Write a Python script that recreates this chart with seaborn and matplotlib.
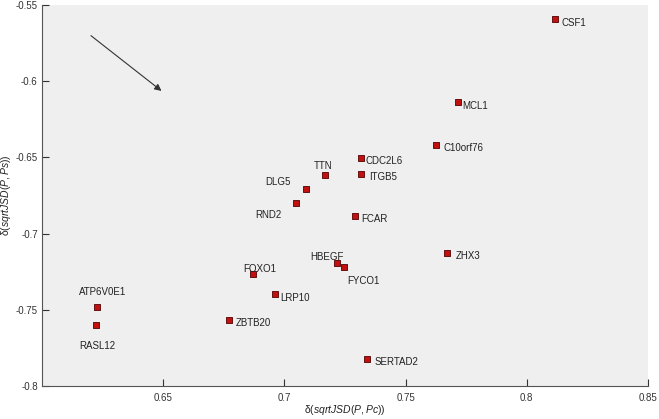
import numpy as np
import pandas as pd
import matplotlib
matplotlib.use("Agg")
import matplotlib.pyplot as plt
import seaborn as sns

# dados
genes = ["CSF1", "MCL1", "C10orf76", "CDC2L6", "ITGB5", "TTN", "DLG5", "RND2",
         "FCAR", "ZHX3", "HBEGF", "FYCO1", "SERTAD2", "FOXO1", "LRP10",
         "ZBTB20", "ATP6V0E1", "RASL12"]
delta_pc = [0.8115, 0.7716, 0.7627, 0.7316, 0.7318, 0.7169, 0.7088, 0.7046,
            0.7292, 0.7672, 0.7215, 0.7246, 0.7339, 0.6870, 0.6960,
            0.6771, 0.6225, 0.6222]
delta_ps = [-0.5592, -0.6137, -0.6420, -0.6504, -0.6609, -0.6617, -0.6705, -0.6797,
            -0.6884, -0.7127, -0.7190, -0.7221, -0.7822, -0.7265, -0.7396,
            -0.7567, -0.7483, -0.7601]

# deslocamento dos rotulos (pixels) e alinhamento
label_dx = [7, 4, 7, 5, 8, -2, -15, -14, 6, 8, -10, 19, 8, 7, 6, 7, 6, 2]
label_dy = [-4, -4, -3, -3, -3, 9, 7, -12, -3, -3, 6, -14, -3, 5, -4, -3, 15, -21]
label_ha = ["left", "left", "left", "left", "left", "center", "right", "right",
            "left", "left", "center", "center", "left", "center", "left",
            "left", "center", "center"]

x_ticks = [0.65, 0.7, 0.75, 0.8, 0.85]
x_tick_labels = ["0.65", "0.7", "0.75", "0.8", "0.85"]
y_ticks = [-0.8, -0.75, -0.7, -0.65, -0.6, -0.55]
y_tick_labels = ["-0.8", "-0.75", "-0.7", "-0.65", "-0.6", "-0.55"]

arrow_start = (0.6193, -0.5690)
arrow_end = (0.6502, -0.6075)

df = pd.DataFrame({"gene": genes, "pc": delta_pc, "ps": delta_ps})

sns.set_style("white")
plt.rcParams["font.family"] = ["Liberation Sans", "DejaVu Sans"]
plt.rcParams["mathtext.fontset"] = "custom"
plt.rcParams["mathtext.it"] = "Liberation Sans:italic"
plt.rcParams["mathtext.rm"] = "Liberation Sans"

fig = plt.figure(figsize=(6.59, 4.19), dpi=100)
ax = fig.add_axes([0.0637, 0.0788, 0.9196, 0.9093])
ax.set_facecolor("#efefef")

sns.scatterplot(data=df, x="pc", y="ps", marker="s", s=20, color="#c01010",
                edgecolor="#500000", linewidth=0.6, ax=ax, zorder=3)

for g, x, y, dx, dy, ha in zip(genes, delta_pc, delta_ps, label_dx, label_dy, label_ha):
    ax.annotate(g, (x, y), xytext=(dx, dy), textcoords="offset pixels",
                ha=ha, va="center", fontsize=7, color="#222222")

ax.annotate("", xy=arrow_end, xytext=arrow_start,
            arrowprops=dict(arrowstyle="-|>", color="#333333", lw=0.8,
                            mutation_scale=10))

ax.set_xlim(0.6, 0.85)
ax.set_ylim(-0.8, -0.55)
ax.set_xticks(x_ticks)
ax.set_xticklabels(x_tick_labels)
ax.set_yticks(y_ticks)
ax.set_yticklabels(y_tick_labels)
ax.tick_params(direction="in", length=5, width=0.8, labelsize=7, colors="#333333",
               bottom=True, left=True)
ax.tick_params(axis="x", pad=5)
ax.tick_params(axis="y", pad=3)

for lado in ["top", "right"]:
    ax.spines[lado].set_visible(False)
for lado in ["left", "bottom"]:
    ax.spines[lado].set_color("#555555")
    ax.spines[lado].set_linewidth(0.8)

ax.set_xlabel(r"δ$\mathit{(sqrtJSD(P,Pc))}$", fontsize=7.5, color="#222222")
ax.set_ylabel(r"δ$\mathit{(sqrtJSD(P,Ps))}$", fontsize=7.5, color="#222222")
ax.xaxis.set_label_coords(0.5, -0.045)
ax.yaxis.set_label_coords(-0.048, 0.5)

fig.savefig("out.png", dpi=100)
